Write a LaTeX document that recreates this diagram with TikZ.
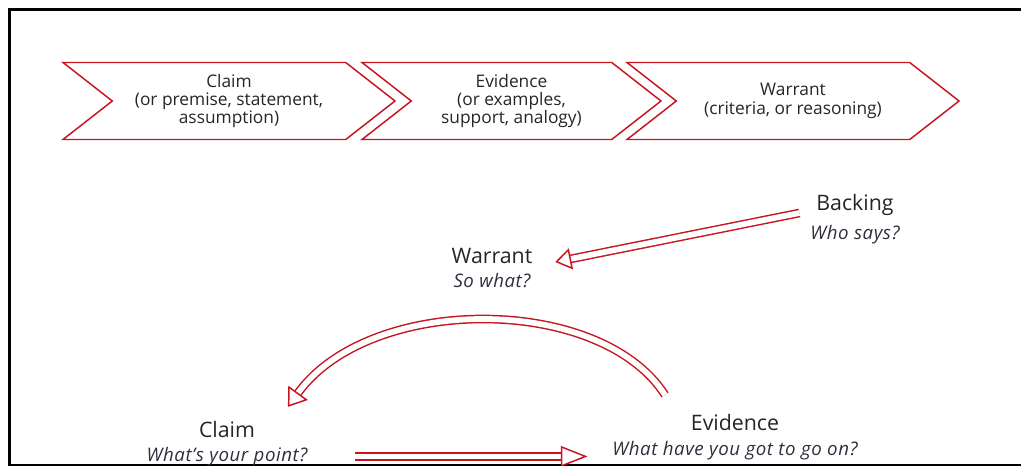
\documentclass[tikz,border=0pt]{standalone}
\usepackage{fontspec}
\setmainfont{Open Sans}
\usetikzlibrary{positioning,calc,shapes.symbols,arrows.meta}

\definecolor{tred}{RGB}{200,20,30}
\definecolor{txt}{RGB}{38,38,38}
\definecolor{subtxt}{RGB}{45,48,60}

\begin{document}
\begin{tikzpicture}[x=0.75pt, y=-0.75pt]
  \tikzset{chev/.style={
      signal, signal from=west, signal to=east, signal pointer angle=76,
      draw=tred, line width=1.1pt, minimum height=57.75pt, inner sep=0pt,
      align=center, text=txt, font=\fontsize{13}{13.8}\selectfont
    },
    title/.style={text=txt, inner sep=2pt, font=\fontsize{16}{18}\selectfont},
    question/.style={text=subtxt, inner sep=2pt,
      font=\fontsize{14}{16}\selectfont\itshape\addfontfeature{LetterSpace=3}},
    hollow/.style 2 args={draw=tred, line width=1.1pt, double=white, double distance=4.3pt,
      -{Triangle[open, fill=white, length=#1, width=#2]}}
  }

  \useasboundingbox (0,0) rectangle (1021,466);

  % frame
  \draw[line width=2.25pt] (1021,9.5) -- (9.5,9.5) -- (9.5,466);
  \draw[line width=1.5pt] (9.5,464.8) -- (1021,464.8);

  % chevrons
  \node[chev, minimum width=249pt] (chclaim) at (229,101)
    {Claim\\(or premise, statement,\\assumption)};
  \node[chev, minimum width=224.25pt] (chevidence) at (511.5,101)
    {Evidence\\(or examples,\\support, analogy)};
  \node[chev, minimum width=249pt] (chwarrant) at (793,101)
    {Warrant\\(criteria, or reasoning)};

  % Toulmin model
  \node[title] (backing) at (855,205) {Backing};
  \node[question, below=3pt of backing] (backingq) {Who says?};

  \node[title] (warrant) at (492,256) {Warrant};
  \node[question, below=3pt of warrant] (warrantq) {So what?};

  \node[title] (claim) at (227,429) {Claim};
  \node[question, below=3pt of claim] (claimq) {What's your point?};

  \node[title] (evidence) at (735,423) {Evidence};
  \node[question, below=3pt of evidence] (evidenceq) {What have you got to go on?};

  \draw[hollow={12pt}{16pt}] ($(backing.west)+(-14,8)$) -- ($(warrant.east)+(20,6)$);
  \draw[hollow={13pt}{18pt}] ($(evidence.north west)+(-23,-17)$)
    .. controls (600,294) and (370,294) .. ($(claim.north east)+(30,-11)$);
  \draw[hollow={20pt}{15.5pt}] ($(claimq.east)+(45,0)$) -- ($(claimq.east -| evidenceq.west)+(-22,0)$);
\end{tikzpicture}
\end{document}
